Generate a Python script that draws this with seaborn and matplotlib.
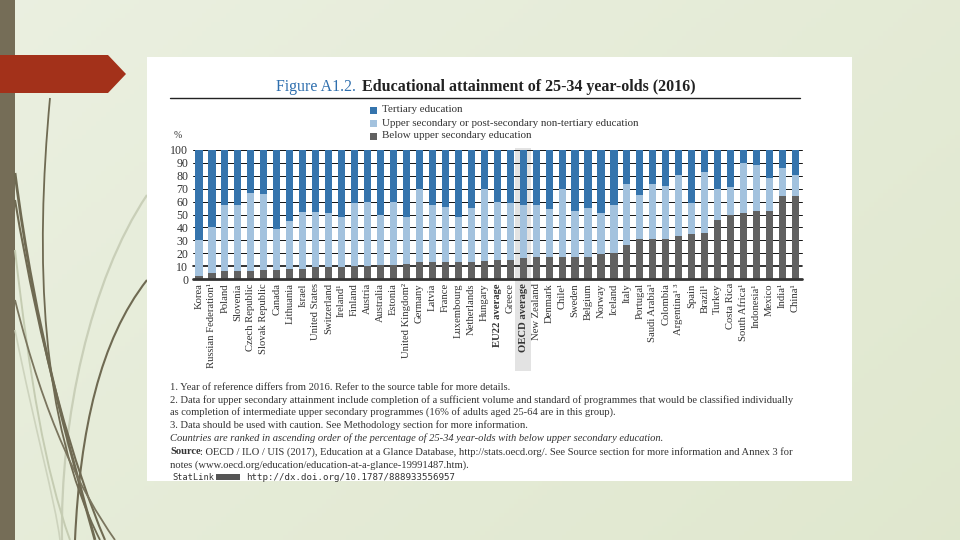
import numpy as np
import pandas as pd
import matplotlib
matplotlib.use("Agg")
import matplotlib.pyplot as plt
import matplotlib.patches as mpatches
from matplotlib.path import Path
import matplotlib.transforms as mtransforms
import seaborn as sns

# ---------------- data ----------------
countries = ["Korea", "Russian Federation¹", "Poland", "Slovenia", "Czech Republic",
             "Slovak Republic", "Canada", "Lithuania", "Israel", "United States",
             "Switzerland", "Ireland¹", "Finland", "Austria", "Australia", "Estonia",
             "United Kingdom²", "Germany", "Latvia", "France", "Luxembourg",
             "Netherlands", "Hungary", "EU22 average", "Greece", "OECD average",
             "New Zealand", "Denmark", "Chile¹", "Sweden", "Belgium", "Norway",
             "Iceland", "Italy", "Portugal", "Saudi Arabia¹", "Colombia",
             "Argentina¹ ³", "Spain", "Brazil¹", "Turkey", "Costa Rica",
             "South Africa¹", "Indonesia¹", "Mexico", "India¹", "China¹"]
below_upper_secondary = [2, 5, 6, 6, 6, 7, 7, 8, 8, 9, 9, 9, 10, 10, 11, 11, 12, 13, 13, 13,
                         13, 13, 14, 15, 15, 16, 17, 17, 17, 17, 17, 19, 20, 26, 31, 31,
                         31, 33, 35, 36, 46, 50, 51, 53, 53, 64, 64]
upper_secondary = [28, 35, 51, 51, 61, 59, 32, 37, 44, 43, 42, 39, 49, 50, 39, 49, 36, 57,
                   44, 43, 35, 42, 56, 45, 44, 41, 40, 37, 53, 36, 38, 32, 37, 48, 34, 43,
                   41, 48, 24, 47, 24, 21, 39, 35, 25, 22, 17]
tertiary = [70, 60, 43, 43, 33, 34, 61, 55, 48, 48, 49, 52, 41, 40, 50, 40, 52, 30, 43,
            44, 52, 45, 30, 40, 41, 43, 43, 46, 30, 47, 45, 49, 43, 26, 35, 26, 28, 19,
            41, 17, 30, 29, 10, 12, 22, 14, 19]
y_ticks = [0, 10, 20, 30, 40, 50, 60, 70, 80, 90, 100]
legend_labels = ["Tertiary education",
                 "Upper secondary or post-secondary non-tertiary education",
                 "Below upper secondary education"]

C_TER = "#3574ad"
C_UPP = "#a3c2de"
C_BEL = "#616161"

df = pd.DataFrame({"country": countries,
                   "below": below_upper_secondary,
                   "upper": upper_secondary,
                   "tertiary": tertiary})
df["lvl2"] = df["below"] + df["upper"]
df["lvl3"] = df["lvl2"] + df["tertiary"]

sns.set_theme(style="white")
plt.rcParams["font.family"] = ["Liberation Serif", "DejaVu Serif"]

W, H = 960, 540
fig = plt.figure(figsize=(9.6, 5.4), dpi=100)

# ---------------- slide background ----------------
bg = fig.add_axes([0, 0, 1, 1])
bg.set_xlim(0, W)
bg.set_ylim(H, 0)
bg.axis("off")
gx = np.linspace(0, 1, 200)
gy = np.linspace(0, 1, 120)
GX, GY = np.meshgrid(gx, gy)
t = (0.6 * GX + 0.4 * GY)
c1 = np.array([0.920, 0.940, 0.880])
c2 = np.array([0.878, 0.908, 0.810])
img = c1[None, None, :] * (1 - t[..., None]) + c2[None, None, :] * t[..., None]
bg.imshow(img, extent=[0, W, H, 0], aspect="auto", zorder=0)

# left stripe
bg.add_patch(mpatches.Rectangle((0, 0), 15, H, color="#756d57", zorder=1, lw=0))

# decorative curves
def curve(pts, color, lw, alpha=1.0):
    codes = [Path.MOVETO] + [Path.CURVE4] * (len(pts) - 1)
    p = Path(pts, codes)
    bg.add_patch(mpatches.PathPatch(p, fc="none", ec=color, lw=lw, alpha=alpha, zorder=2))

curve([(147, 195), (90, 280), (60, 420), (62, 540)], "#c9cfb8", 1.6)
curve([(15, 250), (30, 380), (45, 470), (70, 540)], "#c5ccb2", 1.4)
curve([(15, 330), (35, 430), (55, 500), (60, 540)], "#cdd3bd", 1.2)
curve([(50, 98), (35, 260), (40, 420), (100, 540)], "#6f6a52", 1.3)
curve([(15, 173), (35, 330), (70, 450), (95, 540)], "#6f6a52", 2.0)
curve([(15, 200), (40, 350), (75, 470), (105, 540)], "#6f6a52", 1.5)
curve([(147, 280), (100, 340), (80, 430), (75, 540)], "#6f6a52", 1.5)
curve([(15, 300), (45, 420), (80, 490), (115, 540)], "#7a755e", 1.3)

# red arrow
bg.add_patch(mpatches.Polygon([(0, 55), (108, 55), (126, 74), (108, 93), (0, 93)],
                              closed=True, color="#a3311a", lw=0, zorder=3))

# white panel
bg.add_patch(mpatches.Rectangle((147, 57), 705, 424, color="white", lw=0, zorder=4))

# ---------------- titles / legend / notes ----------------
bg.text(356, 87, "Figure A1.2.", color="#2f6fae", fontsize=11.4, ha="right",
        va="center", zorder=5)
bg.text(362, 87, "Educational attainment of 25-34 year-olds (2016)", color="#222222",
        fontsize=11.5, fontweight="bold", ha="left", va="center", zorder=5)
bg.plot([170, 800], [98, 98], color="#222222", lw=1.0, zorder=5)

for i, (lab, col) in enumerate(zip(legend_labels, [C_TER, C_UPP, C_BEL])):
    yy = 110 + 13 * i
    bg.add_patch(mpatches.Rectangle((370, yy - 3.5), 7, 7, color=col, lw=0, zorder=5))
    bg.text(382, yy, lab, fontsize=7.9, color="#333333", ha="left", va="center", zorder=5)
bg.text(174, 136, "%", fontsize=7, color="#333333", ha="left", va="center", zorder=5)

FN = 7.6
notes = [
    (387, "1. Year of reference differs from 2016. Refer to the source table for more details.", "normal"),
    (400, "2. Data for upper secondary attainment include completion of a sufficient volume and standard of programmes that would be classified individually", "normal"),
    (412, "as completion of intermediate upper secondary programmes (16% of adults aged 25-64 are in this group).", "normal"),
    (425, "3. Data should be used with caution. See Methodology section for more information.", "normal"),
    (438, "Countries are ranked in ascending order of the percentage of 25-34 year-olds with below upper secondary education.", "italic"),
]
for yy, txt, sty in notes:
    bg.text(170, yy, txt, fontsize=FN, color="#333333", fontstyle=sty, ha="left",
            va="center", zorder=5)
bg.text(170, 452, "Source", fontsize=FN, color="#333333", fontweight="bold",
        ha="left", va="center", zorder=5)
bg.text(200, 452, ": OECD / ILO / UIS (2017), Education at a Glance Database, http://stats.oecd.org/. "
        "See Source section for more information and Annex 3 for",
        fontsize=FN, color="#333333", ha="left", va="center", zorder=5)
bg.text(170, 465, "notes (www.oecd.org/education/education-at-a-glance-19991487.htm).",
        fontsize=FN, color="#333333", ha="left", va="center", zorder=5)
bg.text(172, 477, "StatLink", fontsize=6.2, color="#333333", family="DejaVu Sans Mono",
        ha="left", va="center", zorder=5)
bg.add_patch(mpatches.Rectangle((216, 474), 24, 6, color="#555555", lw=0, zorder=5))
bg.text(246, 477, "http://dx.doi.org/10.1787/888933556957", fontsize=6.6,
        color="#333333", family="DejaVu Sans Mono", ha="left", va="center", zorder=5)

# ---------------- chart ----------------
ax = fig.add_axes([192.5 / W, (H - 279) / H, 609.5 / W, 129 / H])
ax.set_facecolor("none")
ax.patch.set_alpha(0)

# OECD average highlight
idx_oecd = countries.index("OECD average")
trans = mtransforms.blended_transform_factory(ax.transData, ax.transAxes)
ax.add_patch(mpatches.Rectangle((idx_oecd - 0.62, -0.71), 1.24, 1.725, transform=trans,
                                color="#e3e3e3", lw=0, zorder=0, clip_on=False))

for v in y_ticks[1:]:
    ax.axhline(v, color="#111111", lw=1.2 if v == 10 else 0.7, zorder=1, clip_on=False)

sns.barplot(data=df, x="country", y="lvl3", color=C_TER, saturation=1, width=0.55,
            errorbar=None, ax=ax, zorder=2, linewidth=0)
sns.barplot(data=df, x="country", y="lvl2", color=C_UPP, saturation=1, width=0.55,
            errorbar=None, ax=ax, zorder=3, linewidth=0)
sns.barplot(data=df, x="country", y="below", color=C_BEL, saturation=1, width=0.55,
            errorbar=None, ax=ax, zorder=4, linewidth=0)

ax.axhline(0, color="#333333", lw=2.0, zorder=5, clip_on=False)
ax.set_xlim(-0.5, len(countries) - 0.5)
ax.set_ylim(0, 100)
ax.set_yticks(y_ticks)
ax.set_yticklabels([str(v) for v in y_ticks], fontsize=8.6, color="#333333")
ax.set_xticks(range(len(countries)))
ax.set_xticklabels(countries, rotation=90, fontsize=7.7, color="#333333")
for lab in ax.get_xticklabels():
    if "average" in lab.get_text():
        lab.set_fontweight("bold")
ax.tick_params(axis="both", length=0, pad=3)
ax.set_xlabel("")
ax.set_ylabel("")
for s in ax.spines.values():
    s.set_visible(False)
ax.grid(False)

fig.savefig("out.png", dpi=100)
